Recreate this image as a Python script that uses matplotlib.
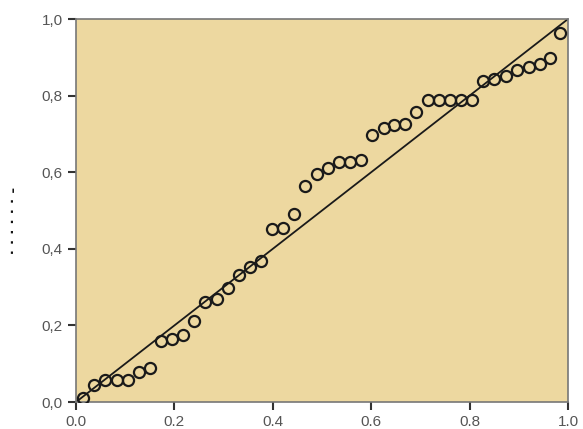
import matplotlib
matplotlib.use("Agg")
import matplotlib.pyplot as plt
from matplotlib.ticker import FuncFormatter

# observed cumulative probability (x) and expected cumulative probability (y)
observed = [0.015, 0.037, 0.059, 0.083, 0.105, 0.128, 0.150, 0.172, 0.195, 0.217,
            0.240, 0.262, 0.286, 0.308, 0.331, 0.354, 0.376, 0.399, 0.421, 0.444,
            0.465, 0.489, 0.512, 0.535, 0.557, 0.579, 0.601, 0.625, 0.647, 0.669,
            0.691, 0.715, 0.738, 0.760, 0.783, 0.805, 0.828, 0.850, 0.873, 0.896,
            0.921, 0.943, 0.963, 0.984]
expected = [0.010, 0.044, 0.057, 0.057, 0.057, 0.078, 0.089, 0.160, 0.164, 0.175,
            0.211, 0.262, 0.269, 0.297, 0.332, 0.353, 0.368, 0.451, 0.455, 0.491,
            0.564, 0.595, 0.610, 0.627, 0.627, 0.632, 0.697, 0.715, 0.723, 0.726,
            0.758, 0.789, 0.789, 0.789, 0.789, 0.789, 0.839, 0.843, 0.852, 0.867,
            0.875, 0.882, 0.897, 0.963]
ticks = [0.0, 0.2, 0.4, 0.6, 0.8, 1.0]

plt.rcParams['font.family'] = ['Liberation Sans', 'DejaVu Sans']

fig = plt.figure(figsize=(5.83, 4.29), dpi=100)
ax = fig.add_axes([0.1304, 0.0629, 0.8439, 0.8928])
ax.set_facecolor('#EDD8A0')

# reference diagonal
ax.plot([0, 1], [0, 1], color='#1a1a1a', lw=1.3, zorder=2)
ax.plot(observed, expected, 'o', ms=8, mfc='none', mec='#1a1a1a', mew=1.6, zorder=3)

ax.set_xlim(0, 1)
ax.set_ylim(0, 1)
ax.set_xticks(ticks)
ax.set_yticks(ticks)
ax.xaxis.set_major_formatter(FuncFormatter(lambda v, p: f"{v:.1f}"))
ax.yaxis.set_major_formatter(FuncFormatter(lambda v, p: f"{v:.1f}".replace('.', ',')))
ax.tick_params(direction='out', length=6, width=1.5, color='#333333',
               labelsize=11, labelcolor='#555555')
for s in ax.spines.values():
    s.set_color('#777777')
    s.set_linewidth(1.2)

fig.text(0.024, 0.487, "· · · · · · -", rotation=90, ha='center', va='center',
         fontsize=12, fontweight='bold', color='#111111')

fig.savefig("out.png", dpi=100)
